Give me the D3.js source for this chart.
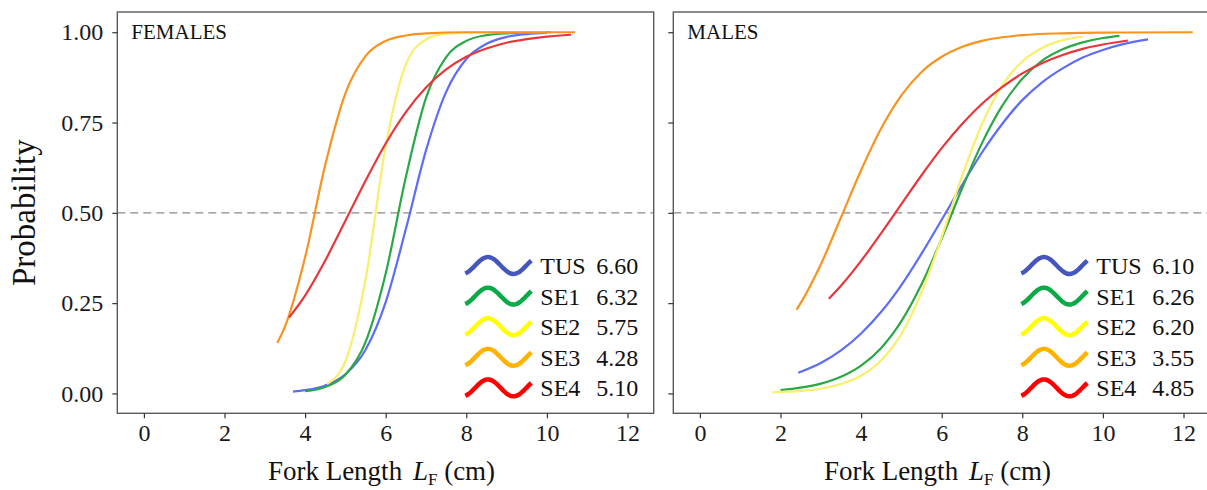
<!DOCTYPE html>
<html>
<head>
<meta charset="utf-8">
<script src="https://cdn.jsdelivr.net/npm/d3@7"></script>
<style>
  body { margin: 0; background: #fff; }
  svg { display: block; font-family: "Liberation Serif", "Times New Roman", serif; }
</style>
</head>
<body>
<svg id="chart" width="1207" height="490"></svg>
<script>
// groups and their L50 values shown in the legends
var groups = ["TUS", "SE1", "SE2", "SE3", "SE4"];
var femaleL50 = ["6.60", "6.32", "5.75", "4.28", "5.10"];
var maleL50 = ["6.10", "6.26", "6.20", "3.55", "4.85"];
var xTicks = [0, 2, 4, 6, 8, 10, 12];
var yTicks = [0, 0.25, 0.5, 0.75, 1];
var yTickLabels = ["0.00", "0.25", "0.50", "0.75", "1.00"];

// maturity ogives: [fork length (cm), probability]
var femaleTUS = [[3.7, 0.005], [4.0, 0.009], [4.5, 0.022], [5.0, 0.053], [5.5, 0.121], [6.0, 0.253],
  [6.5, 0.455], [7.0, 0.673], [7.5, 0.835], [8.0, 0.926], [8.5, 0.968], [9.0, 0.987], [9.5, 0.995], [10.0, 0.998]];
var femaleSE1 = [[4.0, 0.006], [4.5, 0.018], [5.0, 0.052], [5.5, 0.142], [6.0, 0.332], [6.5, 0.599],
  [7.0, 0.818], [7.5, 0.931], [8.0, 0.976], [8.5, 0.992], [9.0, 0.997], [10.1, 1.0]];
var femaleSE2 = [[4.54, 0.026], [5.0, 0.089], [5.5, 0.316], [6.0, 0.685], [6.5, 0.911], [7.0, 0.98],
  [7.5, 0.996], [8.0, 0.999], [9.0, 1.0], [10.0, 1.0]];
var femaleSE3 = [[3.31, 0.14], [3.5, 0.185], [4.0, 0.377], [4.5, 0.633], [5.0, 0.831], [5.5, 0.934],
  [6.0, 0.976], [6.5, 0.991], [7.0, 0.997], [8.0, 1.0], [10.7, 1.0]];
var femaleSE4 = [[3.6, 0.21], [4.0, 0.271], [4.5, 0.368], [5.0, 0.478], [5.5, 0.589], [6.0, 0.692],
  [6.5, 0.779], [7.0, 0.847], [7.5, 0.897], [8.0, 0.932], [8.5, 0.955], [9.0, 0.971], [9.5, 0.981],
  [10.0, 0.988], [10.6, 0.993]];

var maleTUS = [[2.44, 0.057], [3.0, 0.084], [3.5, 0.119], [4.0, 0.166], [4.5, 0.226], [5.0, 0.3],
  [5.5, 0.387], [6.0, 0.481], [6.5, 0.576], [7.0, 0.667], [7.5, 0.746], [8.0, 0.812], [8.5, 0.862],
  [9.0, 0.9], [9.5, 0.93], [10.0, 0.951], [10.5, 0.967], [11.12, 0.98]];
var maleSE1 = [[2.0, 0.009], [2.5, 0.016], [3.0, 0.027], [3.5, 0.046], [4.0, 0.077], [4.5, 0.126],
  [5.0, 0.2], [5.5, 0.302], [6.0, 0.429], [6.5, 0.566], [7.0, 0.693], [7.5, 0.796], [8.0, 0.871],
  [8.5, 0.922], [9.0, 0.953], [9.5, 0.972], [10.0, 0.984], [10.41, 0.99]];
var maleSE2 = [[1.8, 0.003], [2.5, 0.007], [3.0, 0.013], [3.5, 0.026], [4.0, 0.049], [4.5, 0.092],
  [5.0, 0.165], [5.5, 0.28], [6.0, 0.433], [6.5, 0.6], [7.0, 0.746], [7.5, 0.853], [8.0, 0.919],
  [8.5, 0.957], [9.0, 0.978], [9.5, 0.988]];
var maleSE3 = [[2.4, 0.232], [2.5, 0.25], [3.0, 0.357], [3.5, 0.487], [4.0, 0.618], [4.5, 0.734],
  [5.0, 0.825], [5.5, 0.89], [6.0, 0.932], [6.5, 0.959], [7.0, 0.976], [7.5, 0.986], [8.0, 0.992],
  [9.0, 0.997], [10.0, 0.999], [12.23, 1.0]];
var maleSE4 = [[3.2, 0.262], [3.5, 0.298], [4.0, 0.367], [4.5, 0.444], [5.0, 0.524], [5.5, 0.604],
  [6.0, 0.679], [6.5, 0.745], [7.0, 0.802], [7.5, 0.848], [8.0, 0.886], [8.5, 0.915], [9.0, 0.937],
  [9.5, 0.954], [10.0, 0.966], [10.62, 0.977]];

var lineColors = ["#5e6cf8", "#2aa845", "#f8ef6a", "#f7931e", "#e8363b"];
var keyColors = ["#4656bd", "#0aaa48", "#ffff00", "#ffb300", "#ff0000"];

var svg = d3.select("#chart");
var panelW = 536.4, plotTop = 12, plotBottom = 413.3;

var y = d3.scaleLinear().domain([-0.055, 1.056]).range([plotBottom, plotTop]);

var panels = [
  { left: 117.3, title: "FEMALES", series: [femaleTUS, femaleSE1, femaleSE2, femaleSE3, femaleSE4], l50: femaleL50, labels: true },
  { left: 673.3, title: "MALES", series: [maleTUS, maleSE1, maleSE2, maleSE3, maleSE4], l50: maleL50, labels: false }
];

panels.forEach(function (p) {
  var x = d3.scaleLinear().domain([-0.66, 12.65]).range([p.left, p.left + panelW]);
  var g = svg.append("g");

  // dashed 50% line
  g.append("line")
    .attr("x1", p.left).attr("x2", p.left + panelW)
    .attr("y1", y(0.5)).attr("y2", y(0.5))
    .attr("stroke", "#8a8a8a").attr("stroke-width", 1.2)
    .attr("stroke-dasharray", "8,5");

  var line = d3.line()
    .x(function (d) { return x(d[0]); })
    .y(function (d) { return y(d[1]); })
    .curve(d3.curveMonotoneX);

  p.series.forEach(function (s, i) {
    g.append("path").datum(s)
      .attr("d", line)
      .attr("fill", "none")
      .attr("stroke", lineColors[i])
      .attr("stroke-width", 2.2);
  });

  // panel border
  g.append("rect")
    .attr("x", p.left).attr("y", plotTop)
    .attr("width", panelW).attr("height", plotBottom - plotTop)
    .attr("fill", "none").attr("stroke", "#5a5a5a").attr("stroke-width", 1.4);

  // x axis
  var xAxis = d3.axisBottom(x).tickValues(xTicks).tickSize(5).tickPadding(5).tickFormat(d3.format("d"));
  var ax = g.append("g").attr("transform", "translate(0," + plotBottom + ")").call(xAxis);
  ax.select(".domain").remove();
  ax.selectAll("line").attr("stroke", "#333").attr("stroke-width", 1.2);
  ax.selectAll("text").attr("font-size", 24).attr("fill", "#1a1a1a")
    .attr("font-family", "Liberation Serif, serif").attr("dy", "0.72em");

  // y axis
  var yAxis = d3.axisLeft(y).tickValues(yTicks).tickSize(5).tickPadding(9)
    .tickFormat(function (d, i) { return p.labels ? yTickLabels[i] : ""; });
  var ay = g.append("g").attr("transform", "translate(" + p.left + ",0)").call(yAxis);
  ay.select(".domain").remove();
  ay.selectAll("line").attr("stroke", "#333").attr("stroke-width", 1.2);
  ay.selectAll("text").attr("font-size", 24).attr("fill", "#1a1a1a")
    .attr("font-family", "Liberation Serif, serif");

  // panel title
  g.append("text").attr("x", p.left + 14).attr("y", 38.5)
    .attr("font-size", 21).attr("fill", "#111").text(p.title);

  // x axis title
  var t = g.append("text")
    .attr("x", p.left + panelW / 2 - 4).attr("y", 480)
    .attr("text-anchor", "middle").attr("font-size", 27).attr("fill", "#111");
  t.append("tspan").text("Fork Length ");
  t.append("tspan").attr("font-style", "italic").attr("dx", 4).text("L");
  t.append("tspan").attr("font-size", 17).attr("dy", 5).text("F");
  t.append("tspan").attr("dy", -5).text(" (cm)");

  // legend with wavy keys
  var wave = d3.range(0, 41).map(function (k) {
    var th = -1.2 + 8.1 * k / 40;
    return [k / 40 * 66, -8.5 * Math.sin(th)];
  });
  var waveLine = d3.line().curve(d3.curveBasis);
  groups.forEach(function (name, i) {
    var cy = 265.5 + i * 30.6;
    var row = g.append("g").attr("transform", "translate(" + (p.left + 348) + "," + cy + ")");
    row.append("path").attr("d", waveLine(wave))
      .attr("fill", "none").attr("stroke", keyColors[i]).attr("stroke-width", 4.5);
    row.append("text").attr("x", 75).attr("y", 8.5).attr("font-size", 24).attr("fill", "#111").text(name);
    row.append("text").attr("x", 131).attr("y", 8.5).attr("font-size", 24).attr("fill", "#111").text(p.l50[i]);
  });
});

// y axis title
svg.append("text")
  .attr("transform", "translate(35," + ((plotTop + plotBottom) / 2) + ") rotate(-90)")
  .attr("text-anchor", "middle").attr("font-size", 33).attr("fill", "#111")
  .text("Probability");
</script>
</body>
</html>
